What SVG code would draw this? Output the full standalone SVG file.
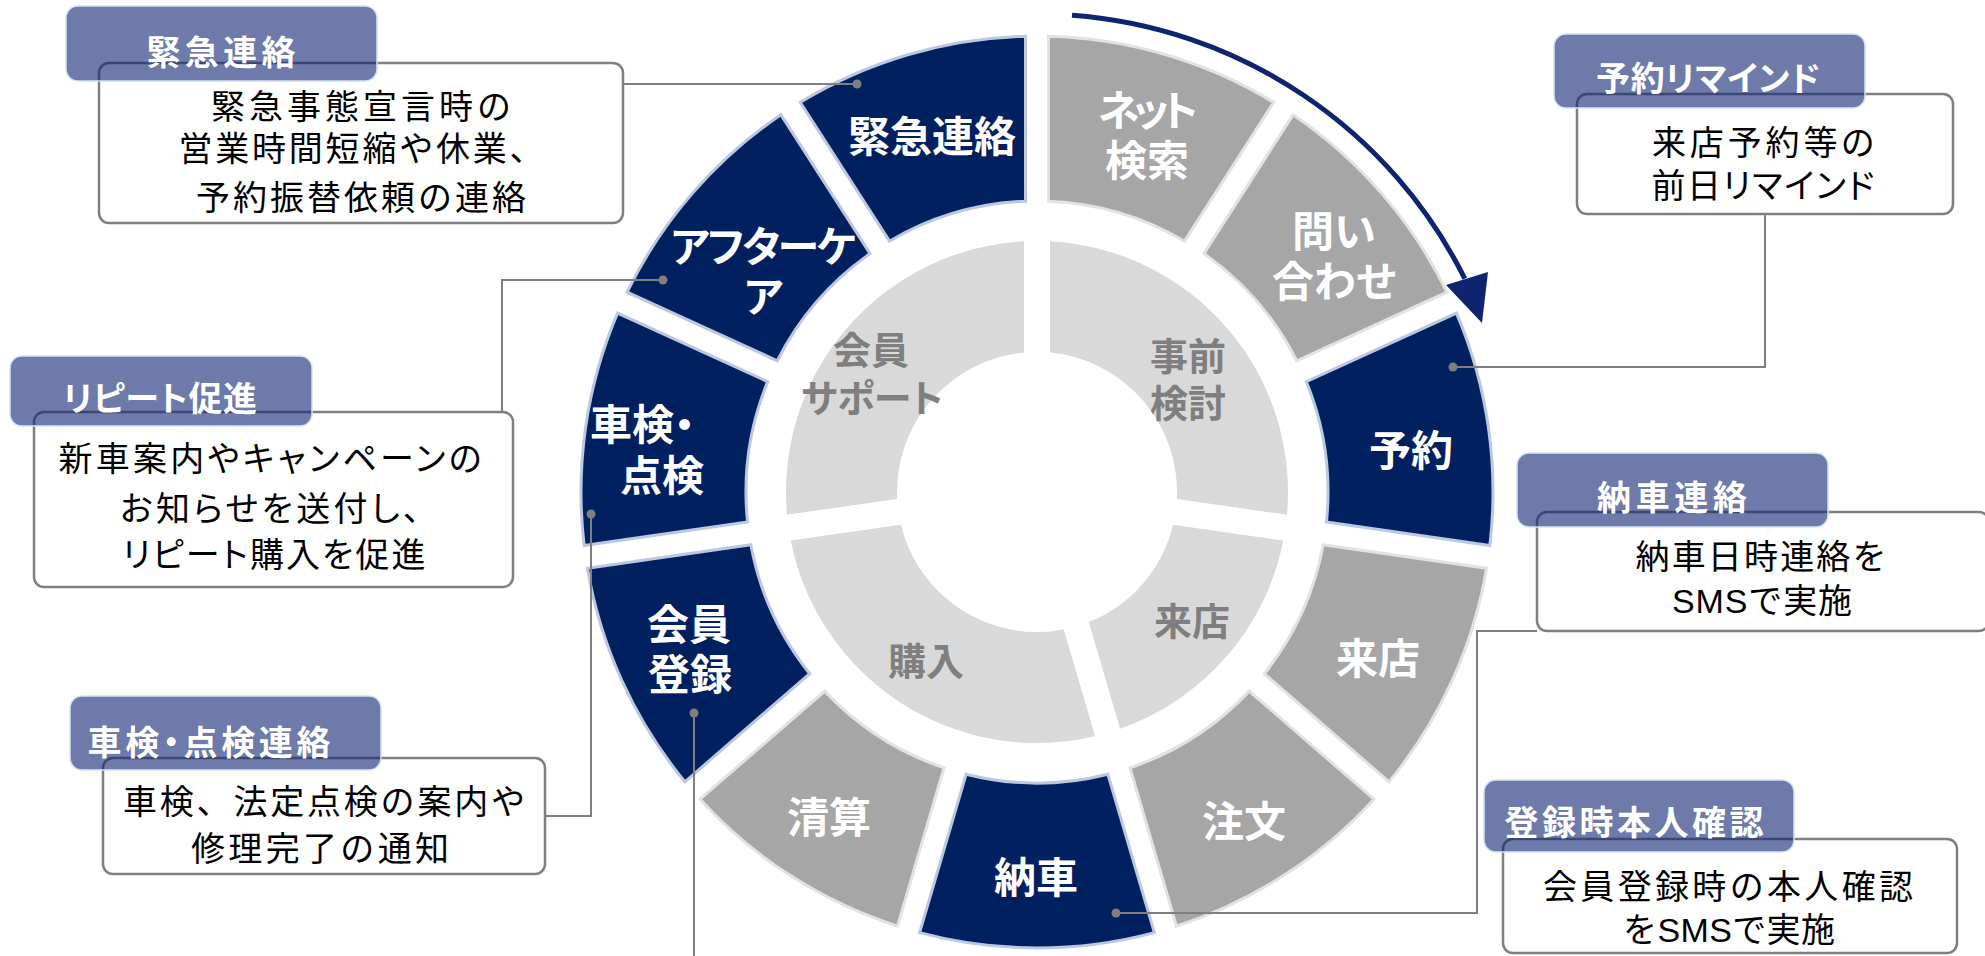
<svg xmlns="http://www.w3.org/2000/svg" width="1985" height="956" viewBox="0 0 1985 956">
<style>
text { font-family: "Liberation Sans", "Noto Sans CJK JP", sans-serif; }
.seg-navy { fill:#002060; stroke:#bcc8df; stroke-width:3; }
.seg-gray { fill:#a6a6a6; stroke:#e2e2e2; stroke-width:3; }
.inner { fill:#d9d9d9; }
.seg-label { fill:#ffffff; font-size:42px; font-weight:700; text-anchor:middle; }
.inner-label { fill:#7f7f7f; font-size:38px; font-weight:700; text-anchor:middle; }
.box { fill:#ffffff; stroke:#7f7f7f; stroke-width:2.5; }
.tab { fill:#0e2170; fill-opacity:0.6; stroke:#d3e2f4; stroke-width:1.5; }
.tab-label { fill:#ffffff; font-size:34px; font-weight:700; text-anchor:middle; }
.body { fill:#000000; font-size:34px; text-anchor:middle; }
.conn { fill:none; stroke:#7f7f7f; stroke-width:2; }
.dot { fill:#7f7f7f; }
.palt { font-feature-settings:"palt" 1; }
.flow { fill:none; stroke:#0e2470; stroke-width:5; }
.flow-head { fill:#0e2470; }
</style>
<rect width="1985" height="956" fill="#ffffff"/>

<!-- inner ring -->
<g id="inner-prior-study">
<path class="inner" d="M 1050 241.34 A 251 251 0 0 1 1286.96 514.81 L 1176.83 498.97 A 140 140 0 0 0 1050 352.6 Z"/>
<text class="inner-label"><tspan x="1188" y="369.5">事前</tspan><tspan x="1188" y="416.5">検討</tspan></text>
</g>
<g id="inner-visit">
<path class="inner" d="M 1283.26 540.54 A 251 251 0 0 1 1120.09 728.85 L 1088.75 622.09 A 140 140 0 0 0 1173.13 524.71 Z"/>
<text class="inner-label" x="1192" y="634.5">来店</text>
</g>
<g id="inner-purchase">
<path class="inner" d="M 1095.15 736.17 A 251 251 0 0 1 790.74 540.54 L 900.87 524.71 A 140 140 0 0 0 1063.8 629.41 Z"/>
<text class="inner-label" x="926" y="674.5">購入</text>
</g>
<g id="inner-member-support">
<path class="inner" d="M 787.04 514.81 A 251 251 0 0 1 1024 241.34 L 1024 352.6 A 140 140 0 0 0 897.17 498.97 Z"/>
<text class="inner-label palt"><tspan x="871" y="363.5">会員</tspan><tspan x="872" y="411.5" textLength="142" lengthAdjust="spacing">サポート</tspan></text>
</g>

<!-- outer ring -->
<g id="seg-net-search">
<path class="seg-gray" d="M 1048.5 36.14 A 456 456 0 0 1 1273.78 102.29 L 1184.53 241.17 A 291 291 0 0 0 1048.5 201.23 Z"/>
<text class="seg-label palt"><tspan x="1148" y="126" textLength="100" lengthAdjust="spacing">ネット</tspan><tspan x="1147" y="176">検索</tspan></text>
</g>
<g id="seg-inquiry">
<path class="seg-gray" d="M 1293.13 114.73 A 456 456 0 0 1 1446.89 292.17 L 1296.72 360.75 A 291 291 0 0 0 1203.88 253.6 Z"/>
<text class="seg-label"><tspan x="1334" y="247">問い</tspan><tspan x="1335" y="297">合わせ</tspan></text>
</g>
<g id="seg-reservation">
<path class="seg-navy" d="M 1456.44 313.09 A 456 456 0 0 1 1489.85 545.49 L 1326.45 522 A 291 291 0 0 0 1306.27 381.67 Z"/>
<text class="seg-label" x="1411" y="466">予約</text>
</g>
<g id="seg-visit">
<path class="seg-gray" d="M 1486.58 568.26 A 456 456 0 0 1 1389.04 781.83 L 1264.28 673.72 A 291 291 0 0 0 1323.18 544.77 Z"/>
<text class="seg-label" x="1378" y="674">来店</text>
</g>
<g id="seg-order">
<path class="seg-gray" d="M 1373.98 799.21 A 456 456 0 0 1 1176.47 926.15 L 1129.96 767.75 A 291 291 0 0 0 1249.22 691.11 Z"/>
<text class="seg-label" x="1244" y="837">注文</text>
</g>
<g id="seg-delivery">
<path class="seg-navy" d="M 1154.4 932.63 A 456 456 0 0 1 919.6 932.63 L 966.11 774.23 A 291 291 0 0 0 1107.89 774.23 Z"/>
<text class="seg-label" x="1036" y="893">納車</text>
</g>
<g id="seg-settlement">
<path class="seg-gray" d="M 897.53 926.15 A 456 456 0 0 1 700.02 799.21 L 824.78 691.11 A 291 291 0 0 0 944.04 767.75 Z"/>
<text class="seg-label" x="829" y="833">清算</text>
</g>
<g id="seg-member-registration">
<path class="seg-navy" d="M 684.96 781.83 A 456 456 0 0 1 587.42 568.26 L 750.82 544.77 A 291 291 0 0 0 809.72 673.72 Z"/>
<text class="seg-label"><tspan x="689" y="640">会員</tspan><tspan x="690" y="690">登録</tspan></text>
</g>
<g id="seg-inspection">
<path class="seg-navy" d="M 584.15 545.49 A 456 456 0 0 1 617.56 313.09 L 767.73 381.67 A 291 291 0 0 0 747.55 522 Z"/>
<text class="seg-label palt"><tspan x="590" y="440" style="text-anchor:start">車検・</tspan><tspan x="662" y="491">点検</tspan></text>
</g>
<g id="seg-aftercare">
<path class="seg-navy" d="M 627.11 292.17 A 456 456 0 0 1 780.87 114.73 L 870.12 253.6 A 291 291 0 0 0 777.28 360.75 Z"/>
<text class="seg-label palt"><tspan x="763.5" y="262" textLength="186" lengthAdjust="spacing">アフターケ</tspan><tspan x="763.5" y="312">ア</tspan></text>
</g>
<g id="seg-emergency">
<path class="seg-navy" d="M 800.22 102.29 A 456 456 0 0 1 1025.5 36.14 L 1025.5 201.23 A 291 291 0 0 0 889.47 241.17 Z"/>
<text class="seg-label" x="932" y="152" textLength="168" lengthAdjust="spacing">緊急連絡</text>
</g>

<!-- flow arrow -->
<g id="flow-arrow">
<path class="flow" d="M 1072 15.3 A 478 478 0 0 1 1464.8 278.7"/>
<polygon class="flow-head" points="1446,285 1488,272 1482,323"/>
</g>

<!-- connectors -->
<g id="connectors">
<path class="conn" d="M 623 84 H 857"/>
<circle class="dot" cx="857" cy="84" r="4.5"/>
<path class="conn" d="M 663 280 H 502 V 412"/>
<circle class="dot" cx="663" cy="280" r="4.5"/>
<path class="conn" d="M 591 514 V 816 H 545"/>
<circle class="dot" cx="591" cy="514" r="4.5"/>
<path class="conn" d="M 694 713 V 960"/>
<circle class="dot" cx="694" cy="713" r="4.5"/>
<path class="conn" d="M 1453 367 H 1765 V 214"/>
<circle class="dot" cx="1453" cy="367" r="4.5"/>
<path class="conn" d="M 1116 913 H 1477 V 631 H 1537"/>
<circle class="dot" cx="1116" cy="913" r="4.5"/>
</g>

<!-- callouts -->
<g id="callout-emergency">
<rect class="box" x="99" y="63" width="524" height="160" rx="10"/>
<rect class="tab" x="66" y="6" width="311" height="75" rx="12"/>
<text class="tab-label" x="221" y="65" textLength="149" lengthAdjust="spacing">緊急連絡</text>
<text class="body"><tspan x="361" y="119" textLength="300" lengthAdjust="spacing">緊急事態宣言時の</tspan><tspan x="361" y="161" textLength="365" lengthAdjust="spacing">営業時間短縮や休業、</tspan><tspan x="361" y="210" textLength="330" lengthAdjust="spacing">予約振替依頼の連絡</tspan></text>
</g>
<g id="callout-repeat">
<rect class="box" x="34" y="412" width="479" height="175" rx="10"/>
<rect class="tab" x="10" y="356" width="302" height="70" rx="12"/>
<text class="tab-label palt" x="160" y="410.5" textLength="194" lengthAdjust="spacing">リピート促進</text>
<text class="body palt"><tspan x="270" y="471" textLength="423" lengthAdjust="spacing">新車案内やキャンペーンの</tspan><tspan x="270" y="521" textLength="300" lengthAdjust="spacing">お知らせを送付し、</tspan><tspan x="274" y="567" textLength="303" lengthAdjust="spacing">リピート購入を促進</tspan></text>
</g>
<g id="callout-inspection">
<rect class="box" x="103" y="758" width="442" height="116" rx="10"/>
<rect class="tab" x="70" y="696" width="311" height="74" rx="12"/>
<text class="tab-label palt" x="209" y="755" textLength="243" lengthAdjust="spacing">車検・点検連絡</text>
<text class="body"><tspan x="324" y="814" textLength="402" lengthAdjust="spacing">車検、法定点検の案内や</tspan><tspan x="320" y="861" textLength="258" lengthAdjust="spacing">修理完了の通知</tspan></text>
</g>
<g id="callout-reminder">
<rect class="box" x="1577" y="94" width="376" height="120" rx="10"/>
<rect class="tab" x="1554" y="34" width="311" height="74" rx="12"/>
<text class="tab-label palt" x="1708" y="90.5" textLength="224" lengthAdjust="spacing">予約リマインド</text>
<text class="body palt"><tspan x="1763" y="155" textLength="222" lengthAdjust="spacing">来店予約等の</tspan><tspan x="1763" y="198" textLength="223" lengthAdjust="spacing">前日リマインド</tspan></text>
</g>
<g id="callout-delivery">
<rect class="box" x="1537" y="512" width="452" height="119" rx="10"/>
<rect class="tab" x="1517" y="453" width="311" height="74" rx="12"/>
<text class="tab-label" x="1672" y="510" textLength="150" lengthAdjust="spacing">納車連絡</text>
<text class="body"><tspan x="1761" y="569" textLength="251" lengthAdjust="spacing">納車日時連絡を</tspan><tspan x="1762" y="613" textLength="180" lengthAdjust="spacing">SMSで実施</tspan></text>
</g>
<g id="callout-identity">
<rect class="box" x="1503" y="839" width="454" height="114" rx="10"/>
<rect class="tab" x="1484" y="780" width="310" height="72" rx="12"/>
<text class="tab-label" x="1634" y="835" textLength="259" lengthAdjust="spacing">登録時本人確認</text>
<text class="body"><tspan x="1728" y="899" textLength="370" lengthAdjust="spacing">会員登録時の本人確認</tspan><tspan x="1729" y="942" textLength="212" lengthAdjust="spacing">をSMSで実施</tspan></text>
</g>
</svg>
